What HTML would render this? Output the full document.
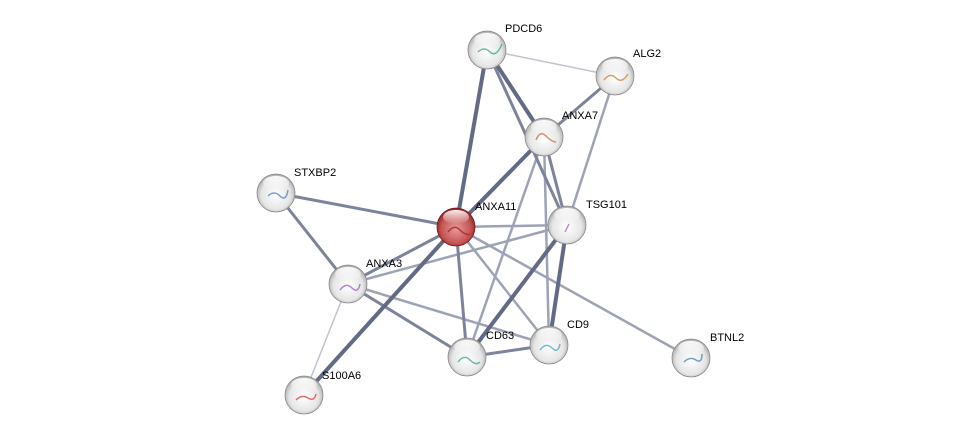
<!DOCTYPE html>
<html><head><meta charset="utf-8"><style>
html,body{margin:0;padding:0;background:#fff;}
svg{display:block;}
text{font-family:"Liberation Sans",sans-serif;font-size:11px;fill:#000;}
</style></head><body>
<svg width="975" height="441" viewBox="0 0 975 441" xmlns="http://www.w3.org/2000/svg">
<defs>
<radialGradient id="g" cx="0.5" cy="0.55" r="0.55">
<stop offset="0" stop-color="#ffffff"/><stop offset="0.7" stop-color="#e6e6e6"/><stop offset="1" stop-color="#a8a8a8"/>
</radialGradient>
<radialGradient id="r" cx="0.5" cy="0.55" r="0.55">
<stop offset="0" stop-color="#e79a9a"/><stop offset="0.7" stop-color="#c65555"/><stop offset="1" stop-color="#8a2020"/>
</radialGradient>
<linearGradient id="hl" x1="0" y1="0" x2="0" y2="1">
<stop offset="0" stop-color="#fff" stop-opacity="0.95"/><stop offset="1" stop-color="#fff" stop-opacity="0"/>
</linearGradient>
</defs>
<g stroke-linecap="round">
<g stroke="#c0c4d0" stroke-width="1.5">
<line x1="487" y1="50" x2="615" y2="76"/>
<line x1="348" y1="284" x2="304" y2="395"/>
</g>
<g stroke="#9da2b6" stroke-width="2.5">
<line x1="615" y1="76" x2="567" y2="225"/>
<line x1="544" y1="137" x2="467" y2="357"/>
<line x1="544" y1="137" x2="549" y2="345"/>
<line x1="456" y1="227" x2="691" y2="358"/>
<line x1="456" y1="227" x2="549" y2="345"/>
<line x1="348" y1="284" x2="567" y2="225"/>
<line x1="348" y1="284" x2="549" y2="345"/>
<line x1="456" y1="227" x2="567" y2="225"/>
</g>
<g stroke="#7d839b" stroke-width="3">
<line x1="615" y1="76" x2="544" y2="137"/>
<line x1="487" y1="50" x2="567" y2="225"/>
<line x1="544" y1="137" x2="567" y2="225"/>
<line x1="456" y1="227" x2="467" y2="357"/>
<line x1="456" y1="227" x2="348" y2="284"/>
<line x1="348" y1="284" x2="467" y2="357"/>
<line x1="276" y1="193" x2="348" y2="284"/>
<line x1="467" y1="357" x2="549" y2="345"/>
<line x1="276" y1="193" x2="456" y2="227"/>
</g>
<g stroke="#636a85" stroke-width="4">
<line x1="487" y1="50" x2="456" y2="227"/>
<line x1="487" y1="50" x2="544" y2="137"/>
<line x1="544" y1="137" x2="456" y2="227"/>
<line x1="456" y1="227" x2="304" y2="395"/>
<line x1="567" y1="225" x2="467" y2="357"/>
<line x1="567" y1="225" x2="549" y2="345"/>
</g>
</g>
<g>
<circle cx="487" cy="50" r="19" fill="url(#g)" stroke="#888" stroke-width="0.8"/>
<circle cx="615" cy="76" r="19" fill="url(#g)" stroke="#888" stroke-width="0.8"/>
<circle cx="544" cy="137" r="19" fill="url(#g)" stroke="#888" stroke-width="0.8"/>
<circle cx="276" cy="193" r="19" fill="url(#g)" stroke="#888" stroke-width="0.8"/>
<circle cx="456" cy="227" r="19" fill="url(#r)" stroke="#7a1a1a" stroke-width="0.8"/>
<circle cx="567" cy="225" r="19" fill="url(#g)" stroke="#888" stroke-width="0.8"/>
<circle cx="348" cy="284" r="19" fill="url(#g)" stroke="#888" stroke-width="0.8"/>
<circle cx="467" cy="357" r="19" fill="url(#g)" stroke="#888" stroke-width="0.8"/>
<circle cx="549" cy="345" r="19" fill="url(#g)" stroke="#888" stroke-width="0.8"/>
<circle cx="691" cy="358" r="19" fill="url(#g)" stroke="#888" stroke-width="0.8"/>
<circle cx="304" cy="395" r="19" fill="url(#g)" stroke="#888" stroke-width="0.8"/>
</g>
<g fill="url(#hl)">
<ellipse cx="487" cy="40" rx="13" ry="7"/><ellipse cx="615" cy="66" rx="13" ry="7"/>
<ellipse cx="544" cy="127" rx="13" ry="7"/><ellipse cx="276" cy="183" rx="13" ry="7"/>
<ellipse cx="456" cy="217" rx="13" ry="7"/><ellipse cx="567" cy="215" rx="13" ry="7"/>
<ellipse cx="348" cy="274" rx="13" ry="7"/><ellipse cx="467" cy="347" rx="13" ry="7"/>
<ellipse cx="549" cy="335" rx="13" ry="7"/><ellipse cx="691" cy="348" rx="13" ry="7"/>
<ellipse cx="304" cy="385" rx="13" ry="7"/>
</g>
<g fill="none" stroke-width="1.5" opacity="0.8">
<path d="M478 52 q6-6 12 0 t12-8" stroke="#4a8"/>
<path d="M604 80 q6-8 12-2 t12-4" stroke="#c84"/>
<path d="M536 140 q4-10 10-4 t10 6" stroke="#c74"/>
<path d="M268 196 q6-6 12 0 t8-6" stroke="#58c"/>
<path d="M448 232 q6-8 12-2 t10 4" stroke="#a22"/>
<path d="M565 232 l4-8" stroke="#a7c"/>
<path d="M340 290 q6-8 12-2 t8-4" stroke="#96c"/>
<path d="M458 362 q6-8 12-2 t10 2" stroke="#4a9"/>
<path d="M540 350 q6-8 12-2 t8-4" stroke="#5ac"/>
<path d="M684 362 q6-6 12-2 t6-6" stroke="#58a"/>
<path d="M296 400 q6-6 12-2 t8-4" stroke="#d44"/>
</g>
<text x="505" y="32">PDCD6</text>
<text x="633" y="57">ALG2</text>
<text x="562" y="119">ANXA7</text>
<text x="294" y="176">STXBP2</text>
<text x="475" y="210">ANXA11</text>
<text x="586" y="208">TSG101</text>
<text x="366" y="267">ANXA3</text>
<text x="486" y="339">CD63</text>
<text x="567" y="328">CD9</text>
<text x="710" y="341">BTNL2</text>
<text x="322" y="379">S100A6</text>
</svg>
</body></html>
